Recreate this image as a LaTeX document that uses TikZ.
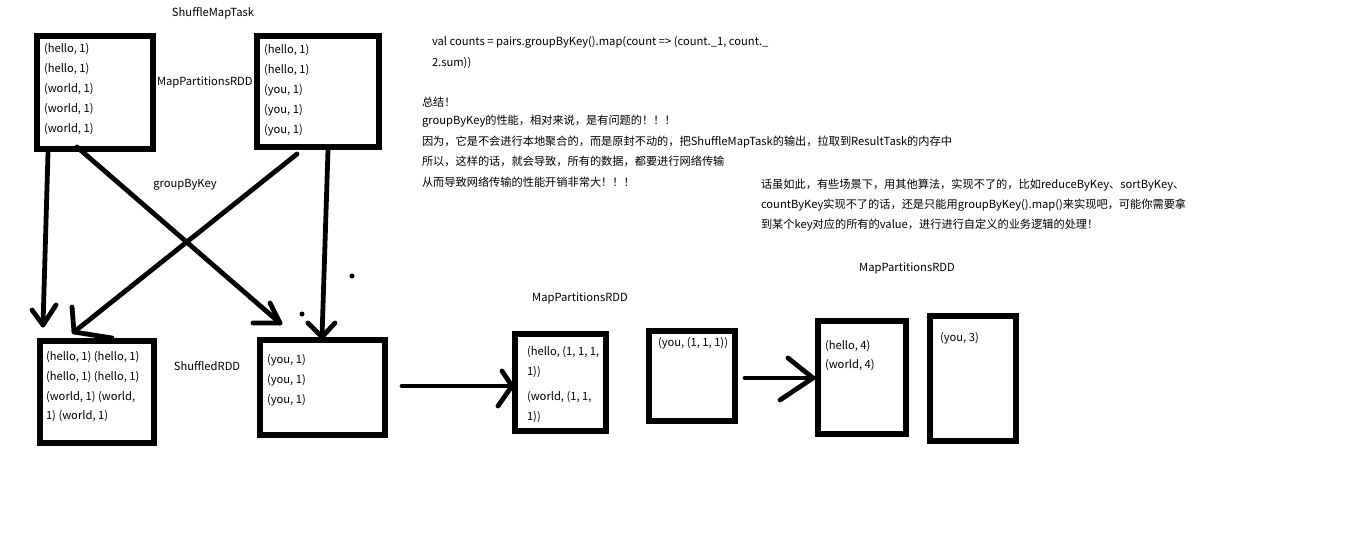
\documentclass[tikz,border=0pt]{standalone}
\usepackage{fontspec}
\setmainfont{Noto Sans CJK SC}
\newdimen\pxu \pxu=0.75pt
\begin{document}
\begin{tikzpicture}[x=0.75pt,y=-0.75pt,
  every node/.style={font=\fontsize{8.4pt}{10pt}\selectfont, inner sep=0pt, outer sep=0pt},
  rdd/.style={draw, line width=3.8pt, rectangle},
  txt/.style={anchor=west},
  lbl/.style={anchor=center},
  flow/.style={line width=3.6pt, line cap=round, line join=round}]
\useasboundingbox (0,0) rectangle (1360,543);
% boxes (center lines)
\node[rdd, minimum width=116\pxu, minimum height=113\pxu] (A) at (95,92.5) {};
\node[rdd, minimum width=122\pxu, minimum height=111\pxu] (B) at (318,91.5) {};
\node[rdd, minimum width=114\pxu, minimum height=102\pxu] (C) at (97,392) {};
\node[rdd, minimum width=125\pxu, minimum height=95\pxu] (D) at (322.5,387.5) {};
\node[rdd, minimum width=91\pxu, minimum height=97\pxu] (E) at (560.5,382.5) {};
\node[rdd, minimum width=86\pxu, minimum height=90\pxu] (F) at (692,376) {};
\node[rdd, minimum width=88\pxu, minimum height=113\pxu] (G) at (862,377.5) {};
\node[rdd, minimum width=86\pxu, minimum height=125\pxu] (H) at (973,378.5) {};
% labels
\node[lbl] (l1) at (213,13) {ShuffleMapTask};
\node[txt] (l2) at (157,82) {MapPartitionsRDD};
\node[lbl] (l3) at (185,185) {groupByKey};
\node[lbl] (l4) at (207,366) {ShuffledRDD};
\node[lbl] (l5) at (580,298) {MapPartitionsRDD};
\node[lbl] (l6) at (907,268) {MapPartitionsRDD};
% box A
\node[txt] (a1) at (44,49) {(hello, 1)};
\node[txt] (a2) at (44,69) {(hello, 1)};
\node[txt] (a3) at (44,89) {(world, 1)};
\node[txt] (a4) at (44,109) {(world, 1)};
\node[txt] (a5) at (44,129) {(world, 1)};
% box B
\node[txt] (b1) at (264,50) {(hello, 1)};
\node[txt] (b2) at (264,70) {(hello, 1)};
\node[txt] (b3) at (264,90) {(you, 1)};
\node[txt] (b4) at (264,110) {(you, 1)};
\node[txt] (b5) at (264,130) {(you, 1)};
% box C
\node[txt] (c1) at (46,357) {(hello, 1) (hello, 1)};
\node[txt] (c2) at (46,377) {(hello, 1) (hello, 1)};
\node[txt] (c3) at (46,397) {(world, 1) (world,};
\node[txt] (c4) at (46,416) {1) (world, 1)};
% box D
\node[txt] (d1) at (267,360) {(you, 1)};
\node[txt] (d2) at (267,380) {(you, 1)};
\node[txt] (d3) at (267,400) {(you, 1)};
% box E
\node[txt] (e1) at (527,352) {(hello, (1, 1, 1,};
\node[txt] (e2) at (527,372) {1))};
\node[txt] (e3) at (527,397) {(world, (1, 1,};
\node[txt] (e4) at (527,417) {1))};
% box F
\node[txt] (f1) at (658,343) {(you, (1, 1, 1))};
% box G
\node[txt] (g1) at (825,346) {(hello, 4)};
\node[txt] (g2) at (825,365) {(world, 4)};
% box H
\node[txt] (h1) at (940,338) {(you, 3)};
% code and notes
\node[txt] (k1) at (432,42) {val counts = pairs.groupByKey().map(count => (count.\_1, count.\_};
\node[txt] (k2) at (432,63) {2.sum))};
\node[txt] (n1) at (422,102) {总结！};
\node[txt] (n2) at (422,121) {groupByKey的性能，相对来说，是有问题的！！！};
\node[txt] (n3) at (422,142) {因为，它是不会进行本地聚合的，而是原封不动的，把ShuffleMapTask的输出，拉取到ResultTask的内存中};
\node[txt] (n4) at (422,161) {所以，这样的话，就会导致，所有的数据，都要进行网络传输};
\node[txt] (n5) at (422,182) {从而导致网络传输的性能开销非常大！！！};
\node[txt] (m1) at (761,185) {话虽如此，有些场景下，用其他算法，实现不了的，比如reduceByKey、sortByKey、};
\node[txt] (m2) at (761,205) {countByKey实现不了的话，还是只能用groupByKey().map()来实现吧，可能你需要拿};
\node[txt] (m3) at (761,225) {到某个key对应的所有的value，进行进行自定义的业务逻辑的处理！};
% arrow tips and shaft starts
\coordinate (s1) at (48,153);  \coordinate (t1) at (43,325);
\coordinate (s2) at (77,147);  \coordinate (t2) at (280,323);
\coordinate (s3) at (297,154); \coordinate (t3) at (74,332);
\coordinate (s4) at (328,150); \coordinate (t4) at (322,337);
\coordinate (s5) at (402,386); \coordinate (t5) at (512,386);
\coordinate (s6) at (745,378); \coordinate (t6) at (813,378);
% shafts
\draw[flow] (s1) -- (t1);
\draw[flow] (s2) -- (t2);
\draw[flow] (s3) -- (t3);
\draw[flow] (s4) -- (t4);
\draw[flow] (s5) -- (t5);
\draw[flow] (s6) -- (t6);
% heads
\draw[flow] (32,310) -- (t1) -- (56,305);
\draw[flow] (270,303) -- (t2) -- (253,323);
\draw[flow] (72,307) -- (t3) -- (112,338);
\draw[flow] (308,323) -- (t4) -- (335,323);
\draw[flow] (502,371) -- (t5) -- (498,406);
\draw[flow] (788,358) -- (t6) -- (780,400);
% stray dots
\fill (352,276) circle (2.5);
\fill (302,314) circle (2.5);
\end{tikzpicture}
\end{document}
